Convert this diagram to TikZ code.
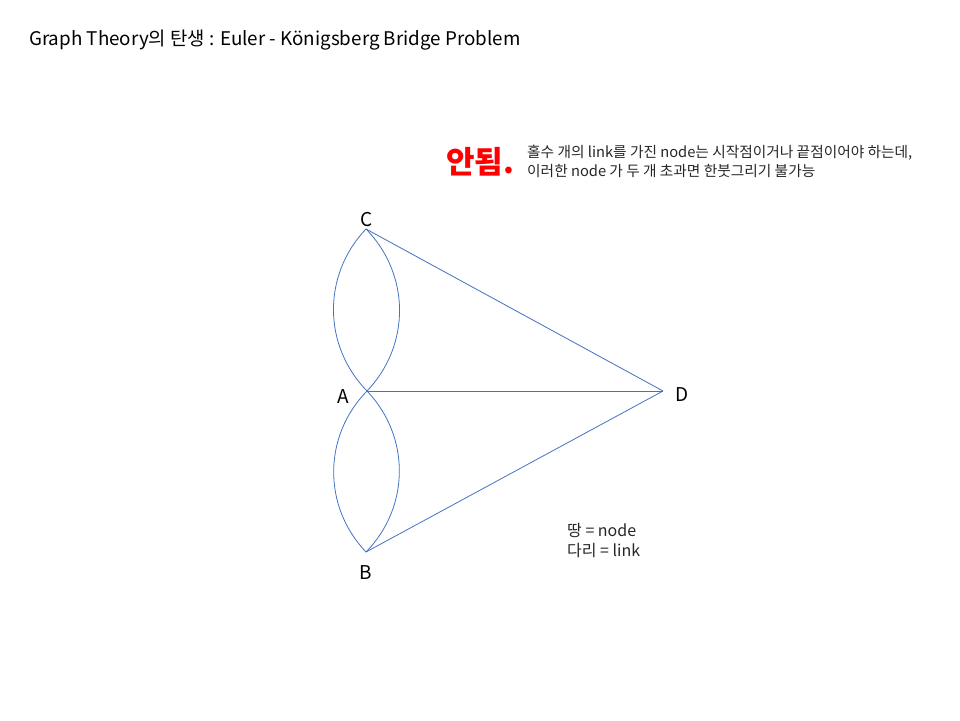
\documentclass[tikz,border=0pt]{standalone}
\usepackage{fontspec}
\setmainfont{Noto Sans CJK KR}
\usepackage{tikz}
\usepackage{xcolor}
\definecolor{linkblue}{RGB}{68,114,196}
\definecolor{warnred}{RGB}{255,0,0}

\begin{document}
\begin{tikzpicture}[x=1pt,y=-1pt]%
  \tikzstyle{lbl}=[inner sep=0,font=\fontsize{19}{22}\selectfont]
  \tikzstyle{note}=[inner sep=0,anchor=base west,align=left,font=\fontsize{14.7}{19.5}\selectfont,text=black!85]
  \tikzstyle{link}=[draw=linkblue,line width=0.8pt]
  \useasboundingbox (0,0) rectangle (960,720);
  % vertices
  \coordinate(C) at (366,229);
  \coordinate(A) at (367,391);
  \coordinate(B) at (366,552);
  \coordinate(D) at (663,391);
  \node(labC)[lbl] at (367,220) {C};
  \node(labA)[lbl] at (343,397) {A};
  \node(labB)[lbl] at (366,573) {B};
  \node(labD)[lbl] at (682,395) {D};
  % bridges
  \draw[link] (C) to[bend right=44] (A);
  \draw[link] (C) to[bend left=44] (A);
  \draw[link] (A) to[bend right=44] (B);
  \draw[link] (A) to[bend left=44] (B);
  \draw[link] (C) -- (D);
  \draw[link] (A) -- (D);
  \draw[link] (B) -- (D);
  % texts
  \node(title)[inner sep=0,anchor=base west,font=\fontsize{18.8}{22}\selectfont] at (29,45)
    {Graph Theory의 탄생 : Euler - Königsberg Bridge Problem};
  \node(no)[inner sep=0,anchor=base west,text=warnred,font=\fontsize{31}{34}\bfseries] at (446,173) {안됨.};
  \node(why)[note] at (527,176.5) {홀수 개의 link를 가진 node는 시작점이거나 끝점이어야 하는데,\\이러한 node 가 두 개 초과면 한붓그리기 불가능};
  \node(legend)[note,font=\fontsize{16}{20}\selectfont] at (567,556) {땅 = node\\다리 = link};
\end{tikzpicture}
\end{document}
